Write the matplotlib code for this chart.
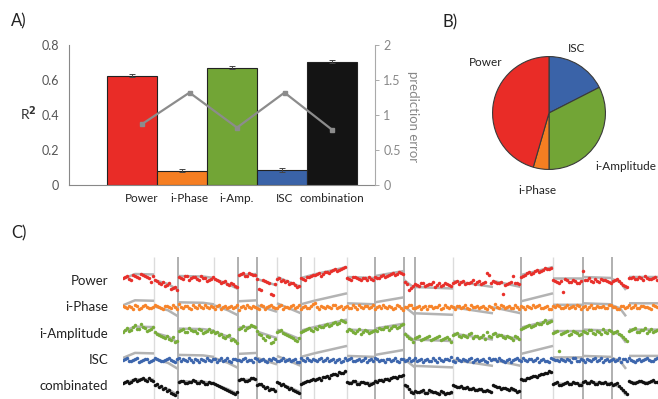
import numpy as np
import matplotlib.pyplot as plt

plt.rcParams['font.family'] = ['Lato', 'DejaVu Sans']

# ---- panel A: R^2 per model and prediction error ----
models = ['Power', 'i-Phase', 'i-Amp.', 'ISC', 'combination']
r2 = [0.625, 0.082, 0.67, 0.086, 0.705]
r2_err = [0.01, 0.008, 0.009, 0.012, 0.008]
pred_err = [0.87, 1.32, 0.82, 1.32, 0.79]
bar_colors = ['#e92c27', '#f57e22', '#72a536', '#3a63a8', '#141414']

# ---- panel B: share of explained variance ----
pie_labels = ['ISC', 'i-Amplitude', 'i-Phase', 'Power']
pie_share = [17.5, 32.5, 4.5, 45.5]
pie_colors = ['#3a63a8', '#72a536', '#f57e22', '#e92c27']

# ---- panel C: observed trace (gray) and per-model predictions (dots) ----
row_names = ['Power', 'i-Phase', 'i-Amplitude', 'ISC', 'combinated']
row_colors = ['#e8302b', '#f7842a', '#79ad3a', '#3d66ad', '#111111']
edges_dark = [55, 115, 134, 178, 252, 281, 292, 398, 460, 489]
edges_light = [31, 91, 154, 191, 224, 330, 430]

gray_t = [0, 12, 31, np.nan, 31, 45, 55, np.nan, 55, 80, 91, np.nan,
          91, 105, 115, np.nan, 115, 134, np.nan, 134, 154, np.nan,
          154, 178, np.nan, 178, 191, np.nan, 191, 224, np.nan,
          224, 252, np.nan, 252, 281, np.nan, 281, 292, np.nan,
          292, 330, np.nan, 330, 370, np.nan, 370, 398, np.nan,
          398, 430, np.nan, 430, 460, np.nan, 460, 489, np.nan,
          489, 497, 503, np.nan, 506, 535]
gray_v = [2, 7, 6.5, np.nan, 1, -3, -9, np.nan, 5, 4.5, 3, np.nan,
          2, -3, -8, np.nan, 6, 7, np.nan, 2, -4.5, np.nan,
          4, -6, np.nan, 3, 6.5, np.nan, 6.5, 14, np.nan,
          4, 3, np.nan, 5, 10, np.nan, 1, -7.5, np.nan,
          -6, -7.5, np.nan, 0, -6, np.nan, 0, -6, np.nan,
          6, 14, np.nan, 2.5, 2.5, np.nan, 4, 3, np.nan,
          2, -1, -9, np.nan, 4, 4]

# predictions, one value every 4 time steps (a: t = 0, 4, ...; b: t = 2, 6, ...)
power_a = [
    3, 5, 1, 5, 3, 6, 4, -1,
    1, -2, -1, -4, -8, -6,
    4, 2, 5, 3, 4, 1, 3, 0, 2,
    2, 0, -1, -3, -2, -5,
    6, 8, 5, 7, 6,
    -8, 1, -1, -13, -3,
    3, 1, 0, -2, -4, -5,
    2, 4, 5,
    6, 8, 7, 9, 10, 12, 11, 13,
    3, 1, 4, 2, 3, 1, 2,
    4, 3, 6, 5, 7, 6, 9, 7,
    -3, -7,
    -3, -5, -2, -4, -3, -6, -2, -4, -3, -5,
    -1, -3, 0, -2, -1, -3, 0, -2, 8, -2,
    -1, -2, -13, -3, -1, -2, -3,
    5, 8, 7, 10, 9, 11, 12, 13,
    0, -2, -11, 1, -1, 0, -2,
    10, 1, 0, 2, -1, 1, 0, -2,
    1, 0, -4, -6, 3, 2, 4, 1, 3, 2, 4,
]
power_b = [
    4, 2, 6, 4, 7, 5, 3, 5,
    0, -3, -5, -2, -7, -9,
    3, 5, 1, 4, 2, 5, 3, 1, 4,
    1, -2, 0, -4, -3, -6,
    7, 5, 8, 6,
    2, -9, 0, -2, -14,
    2, 0, -1, -3, -2, -6,
    3, 1, 4, 6,
    7, 5, 9, 8, 11, 10, 12, 14,
    2, 4, 3, 1, 3, 4, 1,
    3, 5, 4, 6, 8, 7, 8,
    -1, -9, -5,
    -4, -2, -5, -3, -1, -4, -5, -2, -4,
    -2, 0, -1, -3, -2, 1, -1, -3, -1, 6,
    0, -2, -1, -4, -2, 5, -2,
    4, 6, 9, 8, 11, 10, 13, 12,
    1, -1, 0, 2, -1, 1, -2, 0,
    1, 3, -1, 0, 2, 1, -1,
    0, 2, -2, -5, 3, 4, 2, 3, 5, 2, 3, 1,
]
phase_a = [
    1, -1, 0, 2, -2, 1, 0, -1, 2, 0,
    -2, 1, -1, 0, 3, -1, 1, -2, 0, 2,
    -1, 0, 1, -2, 2, 0, -1, 1, 0, -3,
    1, 2, -1, 0, -2, 1, 0, 2, -1, 1,
    -2, 0, 1, -1, 2, 0, -1, 1, 4, -2,
    0, 1, -1, 2, 0, -2, 1, -1, 0, 2,
    -1, 1, 0, -2, 1, 2, -1, 0, -1, 1,
    -3, 0, 2, -1, 1, 0, -2, 1, 0, 2,
    -1, 0, 1, -2, 1, 0, -1, 2, 0, -1,
    1, -2, 0, 3, -1, 1, 0, -1, 2, -2,
    0, 1, -1, 0, 2, -1, 1, -2, 0, 1,
    -1, 2, 0, -1, 1, 0, -2, 2, -1, 0,
    1, -1, 2, 0, -2, 1, 0, -1, 2, -1,
    1, 0, -2, 1,
]
phase_b = [
    0, 1, -2, 1, -1, 2, -1, 0, 1, -1,
    1, 0, 2, -2, 0, 1, -1, 2, -1, 0,
    2, -1, 0, 1, -2, 1, 0, -1, 2, 0,
    -1, 0, 1, -1, 2, -2, 1, 0, -1, 2,
    0, -1, 2, 0, -2, 1, -1, 3, 0, 1,
    -1, 0, 2, -1, 1, 0, -1, 2, -2, 0,
    1, -1, 2, 0, -1, 0, 1, -2, 2, -1,
    0, 2, -1, 0, -2, 1, 1, -1, 0, -2,
    2, -1, 0, 1, -1, 2, -2, 0, 1, 0,
    -1, 1, -2, 0, 2, -1, 1, -1, 0, 1,
    -2, 0, 2, 1, -1, 0, -2, 1, 2, -1,
    0, -1, 1, 2, -2, 1, 0, -1, 1, 0,
    -1, 2, 0, -2, 1, -1, 2, 0, -1, 1,
    0, -1, 2, 0,
]
amp_a = [
    2, 6, 4, 9, 5, 7, 3, 5,
    2, -1, -3, -2, -6, -8,
    3, 5, 2, 4, 3, 5, 1, 3, 2,
    1, -1, -3, -2, -6, -7,
    5, 8, 6, 9, 7,
    0, -4, -2, -9, -5,
    3, 1, -1, -3, -6, -4,
    3, 5, 4,
    6, 8, 7, 10, 9, 12, 11, 13,
    3, 4, 1, 5, 2, 3, 2,
    4, 6, 5, 7, 6, 8, 7, 10,
    -2, -5,
    -4, -2, -5, -3, -6, -4, -2, -5, -3, -8,
    0, -2, -1, -3, 1, -2, -4, -1, 2, -3,
    1, -1, -3, -2, -4, -2, -5,
    6, 8, 7, 9, 10, 12, 11, 13,
    2, -17, 1, 3, 0, 2, -1,
    3, 1, 4, 0, 2, 5, 1, 3,
    2, 0, -3, -7, 4, 6, 2, 4, 1, 5, 3,
]
amp_b = [
    4, 3, 7, 5, 10, 6, 4, 7,
    0, -2, -4, -5, -3, -7,
    4, 2, 6, 3, 1, 4, 2, 5, 3,
    2, 0, -4, -1, -5, -9,
    6, 4, 7, 8,
    3, -1, -6, -3, -8,
    2, 4, 0, -2, -4, -7,
    2, 4, 6, 3,
    5, 7, 9, 8, 11, 10, 14, 12,
    5, 2, 3, 0, 4, 1, 3,
    3, 5, 7, 4, 8, 6, 9,
    0, -4, -8,
    -3, -6, -4, -2, -5, -3, -6, -4, -5,
    -1, 1, -3, -2, 0, -4, -2, -3, -5, -2,
    0, -2, -1, -4, -3, -6, -3,
    5, 7, 9, 8, 11, 10, 14, 12,
    1, 3, 0, 2, -1, 3, 1, 0,
    2, 4, 1, 3, 0, 2, 4,
    1, 3, -1, -5, 3, 5, 2, 4, 6, 3, 2, 4,
]
isc_a = [
    0, 2, -1, 1, -2, 0, 1, -1, 2, 0,
    -1, 1, 0, -2, 2, 1, -1, 0, 1, -2,
    0, 2, -1, 1, 0, -1, 2, -2, 1, 0,
    1, -1, 0, 2, -1, 1, -2, 0, 1, -1,
    2, 0, -1, 1, -2, 0, 2, -1, 0, 1,
    -1, 2, 0, -2, 1, -1, 0, 2, -1, 1,
    0, -2, 1, 2, -1, 0, 1, -1, 2, -2,
    1, 0, -1, 2, 0, -2, 1, -1, 0, 2,
    -1, 1, 3, -2, 0, 1, -1, 2, 0, -1,
    1, -2, 0, 1, 2, -1, 0, -2, 1, 0,
    2, -1, 1, 0, -2, 1, -1, 2, 0, -1,
    0, 1, -2, 2, -1, 0, 1, -1, 2, 0,
    -2, 1, 0, -1, 2, 1, -1, 0, -2, 1,
    0, 2, -1, 1,
]
isc_b = [
    1, -1, 0, 2, -1, 1, -2, 0, 1, -1,
    0, 2, -1, 1, -1, 0, 2, -2, 0, 1,
    -1, 0, 1, -2, 2, 0, -1, 1, 0, -1,
    2, 0, -2, 1, 0, -1, 1, 2, -1, 0,
    -1, 1, 0, -2, 2, -1, 0, 1, -1, 2,
    0, -1, 1, 0, -2, 2, 1, -1, 0, -1,
    2, 0, -1, 1, 0, -2, 1, 0, -1, 1,
    -1, 2, 0, -1, 1, 0, -1, 2, -2, 0,
    1, 0, -1, 2, -1, 0, 1, -2, 1, 0,
    -1, 2, 1, -1, 0, -2, 1, 0, 2, -1,
    0, 1, -1, 2, 0, -1, -2, 1, 0, 1,
    -1, 0, 2, -1, 1, -2, 0, 1, -1, 2,
    0, -1, 1, 0, -2, 1, 2, -1, 0, -1,
    1, 0, -1, 2,
]
comb_a = [
    3, 5, 4, 7, 6, 8, 5, 6,
    1, -1, -3, -5, -7, -9,
    4, 5, 3, 4, 5, 3, 4, 2, 3,
    2, 0, -2, -4, -6, -8,
    6, 7, 5, 8, 7,
    2, 0, -1, -3, -5,
    3, 2, -1, -2, -5, -7,
    3, 5, 6,
    6, 8, 9, 10, 11, 12, 14, 13,
    4, 3, 5, 2, 4, 3, 2,
    5, 6, 5, 7, 8, 9, 10, 11,
    0, -6,
    -5, -6, -4, -7, -5, -6, -8, -6, -7, -6,
    0, -1, -2, -1, -3, -4, -3, -5, -4, -6,
    0, -1, -2, -3, -2, -4, -5,
    6, 8, 9, 10, 11, 12, 13, 14,
    3, 1, 2, 4, 2, 3, 1,
    4, 3, 5, 2, 4, 3, 2, 3,
    2, 0, -4, -8, 4, 3, 5, 4, 3, 5, 4,
]
comb_b = [
    4, 3, 6, 5, 7, 6, 8, 5,
    2, 0, -2, -4, -8, -6,
    5, 3, 4, 6, 3, 5, 2, 4, 3,
    1, -1, -3, -5, -7, -6,
    7, 5, 6, 8,
    1, 2, -2, -4, -3,
    4, 1, 0, -3, -4, -6,
    2, 4, 5, 7,
    7, 6, 9, 8, 12, 11, 13, 15,
    3, 5, 2, 4, 3, 1, 3,
    4, 6, 7, 6, 9, 8, 10,
    1, -3, -7,
    -6, -5, -7, -4, -6, -7, -5, -8, -7,
    1, -1, 0, -2, -3, -2, -4, -3, -5, -5,
    1, -1, -3, -2, -4, -3, -6,
    7, 6, 8, 10, 9, 12, 13, 15,
    2, 4, 1, 3, 2, 4, 3, 1,
    5, 3, 4, 2, 3, 4, 2,
    1, 3, -2, -6, 5, 3, 4, 5, 3, 4, 6, 4,
]
predictions = [(power_a, power_b), (phase_a, phase_b), (amp_a, amp_b),
               (isc_a, isc_b), (comb_a, comb_b)]

W, H = 658, 399
fig = plt.figure(figsize=(W / 100, H / 100), dpi=100)

# ---------------- A) ----------------
axA = fig.add_axes([69 / W, 1 - 185 / H, 306 / W, 140 / H])
x = np.arange(len(models))
axA.bar(x, r2, width=1, color=bar_colors, edgecolor='#222222', linewidth=0.8,
        yerr=r2_err, error_kw=dict(ecolor='#444444', elinewidth=0.7, capsize=2.5, capthick=0.7))
axA.set_xlim(-1.26, 4.86)
axA.set_ylim(0, 0.8)
axA.set_yticks([0, 0.2, 0.4, 0.6, 0.8], ['0', '0.2', '0.4', '0.6', '0.8'])
line_x = x * 0.95 + 0.2
axA.set_xticks(line_x, models)
axA.tick_params(axis='y', length=0, pad=7, labelcolor='#555555', labelsize=9)
axA.tick_params(axis='x', length=0, pad=6, labelcolor='#222222', labelsize=8.5)
for s in ['top', 'right']:
    axA.spines[s].set_visible(False)
for s in ['left', 'bottom']:
    axA.spines[s].set_color('#888888')

axE = axA.twinx()
axE.plot(line_x, pred_err, color='#8c8c8c', lw=1.6, marker='s', ms=3)
axE.set_ylim(0, 2)
axE.set_yticks([0, 0.5, 1, 1.5, 2], ['0', '0.5', '1', '1.5', '2'])
axE.tick_params(axis='y', length=3, width=0.7, color='#aaaaaa', labelcolor='#888888', labelsize=9, pad=3)
for s in ['top', 'left', 'bottom']:
    axE.spines[s].set_visible(False)
axE.spines['right'].set_color('#aaaaaa')

fig.text(413 / W, 1 - 117 / H, 'prediction error', rotation=270, color='#888888',
         fontsize=9.5, ha='center', va='center')
fig.text(20 / W, 1 - 114 / H, 'R$^\\mathbf{2}$', color='#333333', fontsize=10, ha='left', va='center')
fig.text(11 / W, 1 - 21 / H, 'A)', fontsize=12, ha='left', va='center', color='#222222')

# ---------------- B) ----------------
r = 57
axB = fig.add_axes([(549 - r) / W, 1 - (113 + r) / H, 2 * r / W, 2 * r / H])
axB.pie(pie_share, colors=pie_colors, startangle=90, counterclock=False,
        wedgeprops=dict(edgecolor='#3a3a3a', linewidth=0.8))
axB.set_xlim(-1.01, 1.01)
axB.set_ylim(-1.01, 1.01)
pie_text_pos = {'ISC': (577, 49), 'i-Amplitude': (626, 166), 'i-Phase': (537, 190), 'Power': (486, 63)}
for lab in pie_labels:
    px, py = pie_text_pos[lab]
    fig.text(px / W, 1 - py / H, lab, fontsize=8.5, ha='center', va='center', color='#222222')
fig.text(443 / W, 1 - 22 / H, 'B)', fontsize=12, ha='left', va='center', color='#222222')

# ---------------- C) ----------------
axC = fig.add_axes([123 / W, 0, 535 / W, 142 / H])
axC.set_xlim(0, 535)
axC.set_ylim(-142, 0)
axC.axis('off')
axC.vlines(edges_light, -142, 0, colors='#dcdcdc', lw=1.0, zorder=0)
axC.vlines(edges_dark, -142, 0, colors='#a3a3a3', lw=1.2, zorder=0)
row_y = -24 - 26.3 * np.arange(len(row_names))
gt = np.array(gray_t, dtype=float)
gv = np.array(gray_v, dtype=float)
for i, (name, col, (pa, pb)) in enumerate(zip(row_names, row_colors, predictions)):
    assert len(pa) == 134 and len(pb) == 134, (name, len(pa), len(pb))
    axC.plot(gt, row_y[i] + gv, color='#b3b3b3', lw=1.8, solid_capstyle='butt', zorder=1)
    for offs, vals in ((0, pa), (2, pb)):
        t = np.arange(len(vals)) * 4 + offs
        axC.plot(t, row_y[i] + np.array(vals), ls='none', marker='o', ms=2.5,
                 mec='none', color=col, zorder=2)
    fig.text(108 / W, 1 - (281 + 26.3 * i) / H, name, fontsize=9.5, ha='right', va='center', color='#222222')
fig.text(11 / W, 1 - 233 / H, 'C)', fontsize=12, ha='left', va='center', color='#222222')

fig.savefig('out.png', dpi=100)
